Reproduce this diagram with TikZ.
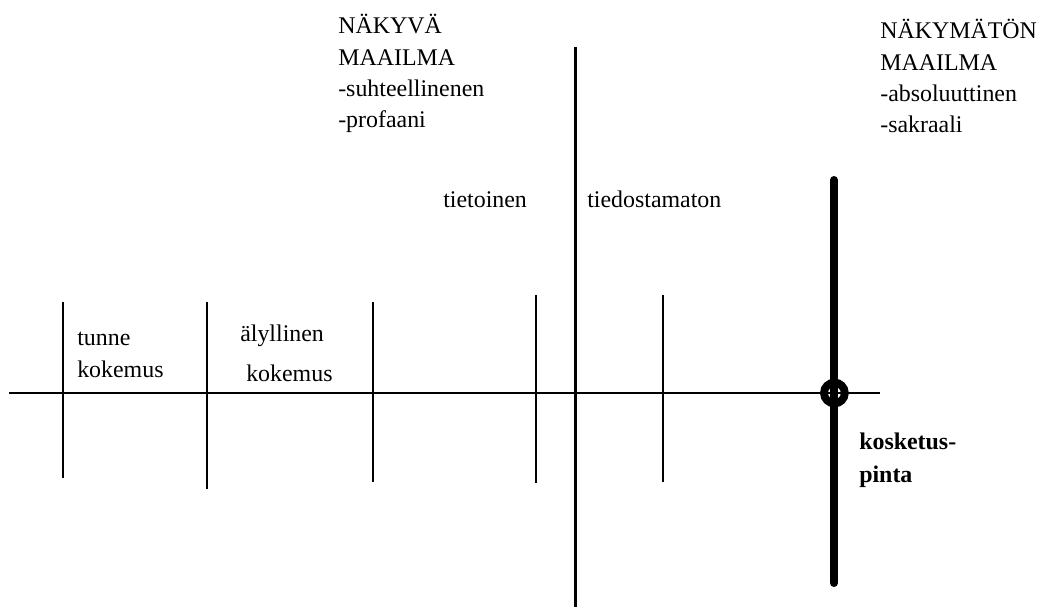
\documentclass[tikz,border=0pt]{standalone}
\usepackage{fontspec}
\setmainfont{Liberation Serif}
\usepackage{tikz}
\usetikzlibrary{calc}

\tikzset{
  divider/.style={line width=1.9pt},
  midline/.style={line width=2.4pt},
  contactbar/.style={line width=5.7pt,line cap=round},
  label/.style={anchor=base west,inner sep=0pt,align=left,font=\fontsize{17}{22.4}\selectfont}
}

\begin{document}
\begin{tikzpicture}[scale=1,>=stealth]
\useasboundingbox (0,0) rectangle (25.925,-15.275);
\def\ax{-9.825}
\draw[divider] (0.225,\ax) -- (22.0,\ax);
\draw[divider] (1.575,-7.55) -- (1.575,-11.95);
\draw[divider] (5.175,-7.55) -- (5.175,-12.225);
\draw[divider] (9.325,-7.55) -- (9.325,-12.05);
\draw[divider] (13.4,-7.375) -- (13.4,-12.075);
\draw[divider] (16.575,-7.375) -- (16.575,-12.05);
\draw[midline] (14.39,-1.175) -- (14.39,-15.175);
\draw[contactbar] (20.85,-4.5) -- (20.85,-14.575);
\draw[line width=5.6pt] (20.86,\ax) circle (0.26);

\node[label] (nakyva) at (8.45,-3.2) {NÄKYVÄ\\MAAILMA\\-suhteellinenen\\-profaani};
\node[label] (nakymaton) at (22.0,-3.325) {NÄKYMÄTÖN\\MAAILMA\\-absoluuttinen\\-sakraali};
\node[label] (tietoinen) at (11.075,-5.2) {tietoinen};
\node[label] (tiedostamaton) at (14.675,-5.2) {tiedostamaton};
\node[label] (tunne) at (1.925,-9.425) {tunne\\[0pt]kokemus};
\node[label] (alyllinen) at (6.0,-9.525) {älyllinen\\[6pt]\hspace*{0.15cm}kokemus};
\node[label,font=\fontsize{17}{23.4}\selectfont\bfseries] (pinta) at (21.475,-12.05) {kosketus-\\pinta};
\end{tikzpicture}
\end{document}
